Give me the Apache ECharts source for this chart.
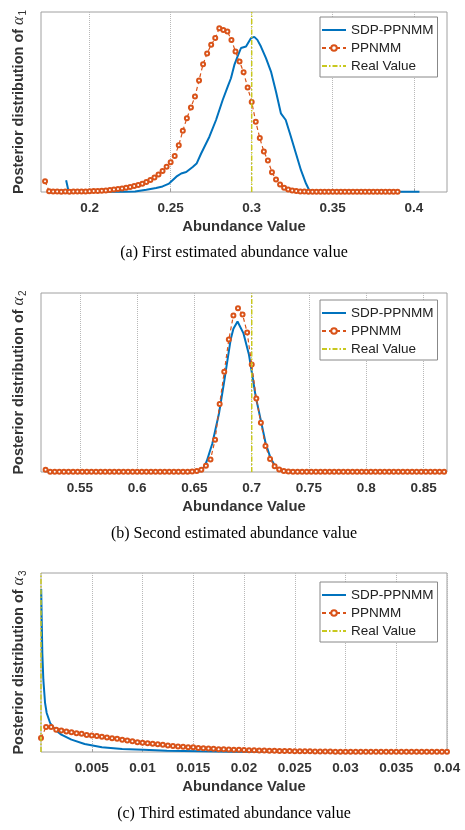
<!DOCTYPE html>
<html>
<head>
<meta charset="utf-8">
<script src="https://cdn.jsdelivr.net/npm/echarts@6/dist/echarts.min.js"></script>
<style>
  html, body { margin: 0; padding: 0; background: #fff; }
  #chart { width: 465px; height: 830px; }
</style>
</head>
<body>
<div id="chart"></div>
<script>
// x axis extents and tick labels of the three panels
const rangeA = [0.17, 0.4205];
const rangeB = [0.516, 0.8705];
const rangeC = [0, 0.04];
const ticksA = [0.2, 0.25, 0.3, 0.35, 0.4];
const ticksB = [0.55, 0.6, 0.65, 0.7, 0.75, 0.8, 0.85];
const ticksC = [0.005, 0.01, 0.015, 0.02, 0.025, 0.03, 0.035, 0.04];

// real abundance values
const realA = 0.3;
const realB = 0.7;
const realC = 0;

const seriesNames = ['SDP-PPNMM', 'PPNMM', 'Real Value'];
const captions = [
  '(a) First estimated abundance value',
  '(b) Second estimated abundance value',
  '(c) Third estimated abundance value'
];

// posterior curves, [abundance, density scaled to panel height]
const sdpA = [[0.1855,0.065],[0.187,0.004],[0.2,0.003],[0.215,0.002],[0.221,0.001],[0.228,0.003],[0.235,0.012],[0.241,0.022],[0.245,0.031],[0.249,0.047],[0.2535,0.085],[0.2565,0.103],[0.2596,0.111],[0.2636,0.139],[0.266,0.158],[0.2688,0.214],[0.2739,0.307],[0.278,0.4],[0.2821,0.511],[0.2852,0.585],[0.2872,0.632],[0.2893,0.706],[0.2913,0.753],[0.2934,0.8],[0.2965,0.808],[0.2996,0.855],[0.3016,0.862],[0.3035,0.845],[0.3057,0.808],[0.3088,0.744],[0.3119,0.669],[0.315,0.557],[0.3166,0.493],[0.318,0.437],[0.321,0.4],[0.3242,0.307],[0.3273,0.214],[0.3304,0.121],[0.3335,0.047],[0.3355,0.01],[0.338,0.002],[0.35,0.002],[0.4035,0.002]];
const ppnA = [[0.1725,0.06],[0.175,0.004],[0.1775,0.003],[0.18,0.003],[0.1825,0.002],[0.185,0.003],[0.1875,0.002],[0.19,0.003],[0.1925,0.003],[0.195,0.003],[0.1975,0.003],[0.2,0.004],[0.2025,0.005],[0.205,0.006],[0.2075,0.007],[0.21,0.009],[0.2125,0.011],[0.215,0.014],[0.2175,0.017],[0.22,0.02],[0.2225,0.024],[0.225,0.028],[0.2275,0.033],[0.23,0.039],[0.2325,0.046],[0.235,0.055],[0.2375,0.066],[0.24,0.08],[0.2425,0.097],[0.245,0.117],[0.2475,0.14],[0.25,0.165],[0.2525,0.2],[0.255,0.26],[0.2575,0.34],[0.26,0.41],[0.2625,0.47],[0.265,0.53],[0.2675,0.62],[0.27,0.71],[0.2725,0.77],[0.275,0.818],[0.2775,0.855],[0.28,0.91],[0.2825,0.9],[0.285,0.892],[0.2875,0.845],[0.29,0.78],[0.2925,0.725],[0.295,0.665],[0.2975,0.58],[0.3,0.5],[0.3025,0.39],[0.305,0.3],[0.3075,0.225],[0.31,0.175],[0.3125,0.11],[0.315,0.07],[0.3175,0.042],[0.32,0.024],[0.3225,0.014],[0.325,0.008],[0.3275,0.005],[0.33,0.003],[0.3325,0.003],[0.335,0.002],[0.3375,0.002],[0.34,0.002],[0.3425,0.002],[0.345,0.002],[0.3475,0.002],[0.35,0.002],[0.3525,0.002],[0.355,0.002],[0.3575,0.002],[0.36,0.002],[0.3625,0.002],[0.365,0.002],[0.3675,0.002],[0.37,0.002],[0.3725,0.002],[0.375,0.002],[0.3775,0.002],[0.38,0.002],[0.3825,0.002],[0.385,0.002],[0.3875,0.002],[0.39,0.002]];

const sdpB = [[0.5185,0.008],[0.522,0.002],[0.65,0.002],[0.655,0.004],[0.6583,0.028],[0.6607,0.06],[0.6656,0.159],[0.6714,0.327],[0.6758,0.5],[0.6782,0.6],[0.6816,0.74],[0.684,0.8],[0.6876,0.841],[0.6927,0.776],[0.6976,0.655],[0.7,0.56],[0.7035,0.42],[0.7079,0.29],[0.7122,0.159],[0.7166,0.075],[0.721,0.028],[0.7245,0.008],[0.728,0.003],[0.87,0.002]];
const ppnB = [[0.52,0.013],[0.524,0.002],[0.528,0.002],[0.532,0.002],[0.536,0.002],[0.54,0.002],[0.544,0.002],[0.548,0.002],[0.552,0.002],[0.556,0.002],[0.56,0.002],[0.564,0.002],[0.568,0.002],[0.572,0.002],[0.576,0.002],[0.58,0.002],[0.584,0.002],[0.588,0.002],[0.592,0.002],[0.596,0.002],[0.6,0.002],[0.604,0.002],[0.608,0.002],[0.612,0.002],[0.616,0.002],[0.62,0.002],[0.624,0.002],[0.628,0.002],[0.632,0.002],[0.636,0.002],[0.64,0.002],[0.644,0.002],[0.648,0.003],[0.652,0.006],[0.656,0.012],[0.66,0.035],[0.664,0.07],[0.668,0.18],[0.672,0.38],[0.676,0.56],[0.68,0.74],[0.684,0.875],[0.688,0.915],[0.692,0.88],[0.696,0.78],[0.7,0.6],[0.704,0.41],[0.708,0.275],[0.712,0.145],[0.716,0.072],[0.72,0.032],[0.724,0.014],[0.728,0.006],[0.732,0.003],[0.736,0.002],[0.74,0.002],[0.744,0.002],[0.748,0.002],[0.752,0.002],[0.756,0.002],[0.76,0.002],[0.764,0.002],[0.768,0.002],[0.772,0.002],[0.776,0.002],[0.78,0.002],[0.784,0.002],[0.788,0.002],[0.792,0.002],[0.796,0.002],[0.8,0.002],[0.804,0.002],[0.808,0.002],[0.812,0.002],[0.816,0.002],[0.82,0.002],[0.824,0.002],[0.828,0.002],[0.832,0.002],[0.836,0.002],[0.84,0.002],[0.844,0.002],[0.848,0.002],[0.852,0.002],[0.856,0.002],[0.86,0.002],[0.864,0.002],[0.868,0.002]];

const sdpC = [[0.00002,0.91],[0.00007,0.74],[0.00013,0.553],[0.00023,0.404],[0.0004,0.274],[0.00056,0.218],[0.0009,0.162],[0.0014,0.125],[0.002,0.097],[0.003,0.069],[0.0043,0.045],[0.006,0.027],[0.008,0.017],[0.0101,0.013],[0.0124,0.0075],[0.0157,0.004],[0.019,0.002],[0.04,0.001]];
const ppnC = [[0,0.078],[0.0005,0.14],[0.001,0.14],[0.0015,0.125],[0.002,0.12],[0.0025,0.115],[0.003,0.11],[0.0035,0.105],[0.004,0.102],[0.0045,0.095],[0.005,0.092],[0.0055,0.089],[0.006,0.085],[0.0065,0.081],[0.007,0.077],[0.0075,0.074],[0.008,0.068],[0.0085,0.064],[0.009,0.06],[0.0095,0.055],[0.01,0.052],[0.0105,0.049],[0.011,0.046],[0.0115,0.043],[0.012,0.04],[0.0125,0.037],[0.013,0.034],[0.0135,0.031],[0.014,0.029],[0.0145,0.027],[0.015,0.026],[0.0155,0.023],[0.016,0.021],[0.0165,0.019],[0.017,0.018],[0.0175,0.016],[0.018,0.015],[0.0185,0.014],[0.019,0.013],[0.0195,0.012],[0.02,0.011],[0.0205,0.01],[0.021,0.0095],[0.0215,0.009],[0.022,0.008],[0.0225,0.0075],[0.023,0.007],[0.0235,0.006],[0.024,0.0056],[0.0245,0.005],[0.025,0.0045],[0.0255,0.004],[0.026,0.0038],[0.0265,0.0035],[0.027,0.003],[0.0275,0.003],[0.028,0.0025],[0.0285,0.0022],[0.029,0.002],[0.0295,0.002],[0.03,0.002],[0.0305,0.002],[0.031,0.002],[0.0315,0.002],[0.032,0.002],[0.0325,0.002],[0.033,0.002],[0.0335,0.002],[0.034,0.002],[0.0345,0.002],[0.035,0.002],[0.0355,0.002],[0.036,0.002],[0.0365,0.002],[0.037,0.002],[0.0375,0.002],[0.038,0.002],[0.0385,0.002],[0.039,0.002],[0.0395,0.002],[0.04,0.002]];

const panels = [
  { range: rangeA, ticks: ticksA, sdp: sdpA, ppn: ppnA, real: realA, top: 12, height: 180, legendTop: 17, capTop: 245 },
  { range: rangeB, ticks: ticksB, sdp: sdpB, ppn: ppnB, real: realB, top: 293, height: 179, legendTop: 300, capTop: 526 },
  { range: rangeC, ticks: ticksC, sdp: sdpC, ppn: ppnC, real: realC, top: 573, height: 179, legendTop: 582, capTop: 806 }
];

const sans = 'Liberation Sans, Arial, sans-serif';
const blue = '#0072BD';
const orange = '#D95319';
const yellow = '#c8c81e';
const axisGray = '#a0a0a0';

const grid = [], xAxis = [], yAxis = [], series = [], legend = [], title = [];

// legend entries: no dot on the plain lines
const legendData = [
  { name: seriesNames[0], itemStyle: { opacity: 0 } },
  { name: seriesNames[1], itemStyle: { color: orange, borderColor: orange, borderWidth: 2 } },
  { name: seriesNames[2], itemStyle: { opacity: 0 } }
];

panels.forEach((p, i) => {
  grid.push({
    left: 41, top: p.top, width: 406, height: p.height,
    show: true, borderColor: axisGray, borderWidth: 1, backgroundColor: '#fff'
  });
  xAxis.push({
    type: 'value', gridIndex: i, min: p.range[0], max: p.range[1],
    axisLine: { show: false },
    axisTick: { inside: true, length: 3, customValues: p.ticks, lineStyle: { color: axisGray } },
    axisLabel: {
      customValues: p.ticks, margin: 9,
      fontFamily: sans, fontWeight: 'bold', fontSize: 13.5, color: '#333'
    },
    splitLine: { show: true, lineStyle: { color: '#b8b8b8', type: 'dotted', width: 1 } },
    name: 'Abundance Value', nameLocation: 'middle', nameGap: 27,
    nameTextStyle: { fontFamily: sans, fontWeight: 'bold', fontSize: 14.8, color: '#333' }
  });
  yAxis.push({
    type: 'value', gridIndex: i, min: 0, max: 1,
    axisLine: { show: false }, axisTick: { show: false },
    axisLabel: { show: false }, splitLine: { show: false },
    name: 'Posterior distribution of {a|α}{s|' + (i + 1) + '}',
    nameLocation: 'middle', nameRotate: 90, nameGap: 13,
    nameTextStyle: {
      fontFamily: sans, fontWeight: 'bold', fontSize: 14.5, color: '#333',
      rich: {
        a: { fontFamily: 'Liberation Serif, serif', fontStyle: 'italic', fontWeight: 'normal', fontSize: 16, color: '#333' },
        s: { fontFamily: sans, fontWeight: 'normal', fontSize: 10, color: '#333', verticalAlign: 'bottom', padding: [8, 0, 0, 1] }
      }
    }
  });
  series.push({
    name: 'SDP-PPNMM', type: 'line', xAxisIndex: i, yAxisIndex: i,
    data: p.sdp, symbol: 'none', z: 2,
    lineStyle: { color: blue, width: 2 }, itemStyle: { color: blue }
  });
  series.push({
    name: 'PPNMM', type: 'line', xAxisIndex: i, yAxisIndex: i,
    data: p.ppn, symbol: 'emptyCircle', symbolSize: 4, z: 3,
    lineStyle: { color: orange, width: 1.2, type: [4, 3] },
    itemStyle: { color: orange, borderColor: orange, borderWidth: 1.3 }
  });
  series.push({
    name: 'Real Value', type: 'line', xAxisIndex: i, yAxisIndex: i,
    data: [[p.real, 0], [p.real, 1]], symbol: 'none', z: 4,
    lineStyle: { color: yellow, width: 1.5, type: [5, 2, 1.5, 2] }, itemStyle: { color: yellow }
  });
  legend.push({
    orient: 'vertical', left: 320, top: p.legendTop,
    data: legendData, selectedMode: false,
    itemWidth: 24, itemHeight: 7, itemGap: 4,
    padding: [6, 4, 4, 1],
    borderColor: '#888', borderWidth: 1, backgroundColor: '#fff',
    textStyle: { fontFamily: sans, fontSize: 13.5, color: '#222', lineHeight: 14 }
  });
  title.push({
    text: captions[i], left: 234, top: p.capTop, textAlign: 'center', padding: 0,
    textStyle: { fontFamily: 'Liberation Serif, Times New Roman, serif', fontWeight: 'normal', fontSize: 16, color: '#000' }
  });
});

const chart = echarts.init(document.getElementById('chart'), null, { renderer: 'canvas' });
chart.setOption({
  animation: false,
  backgroundColor: '#fff',
  title: title,
  legend: legend,
  grid: grid,
  xAxis: xAxis,
  yAxis: yAxis,
  series: series
});
</script>
</body>
</html>
